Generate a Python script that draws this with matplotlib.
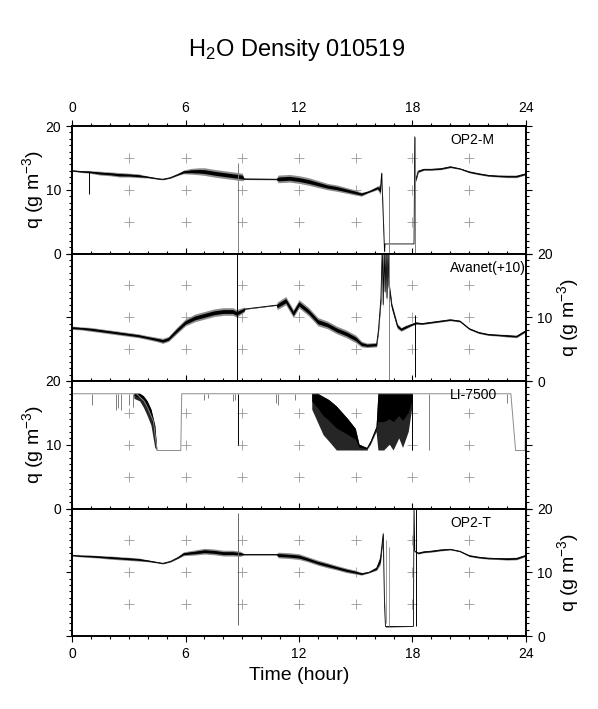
import matplotlib
matplotlib.use('Agg')
import matplotlib.pyplot as plt
import numpy as np
from matplotlib.ticker import MultipleLocator

plt.rcParams['font.family'] = ['Liberation Sans', 'DejaVu Sans']
plt.rcParams['mathtext.default'] = 'regular'

# ---- OP2-M : time (hour), water density (g m-3), noise half-width
t1 = [0, 0.5, 0.9, 1.5, 2, 2.5, 3, 3.5, 4, 4.5, 4.8, 5.2, 5.6, 5.9, 6.3, 6.7,
      7.0, 7.5, 8.0, 8.5, 9.0, 9.1, 10.8, 10.9, 11.5, 12.0, 12.5, 13.0, 13.5,
      14.0, 14.5, 15.0, 15.3, 15.7, 16.15, 16.3, 16.37, 16.45, 16.52, 16.55,
      18.08, 18.12, 18.17, 18.3, 18.6, 19.0, 19.5, 20.0, 20.5, 21.0, 21.5,
      22.0, 22.5, 23.0, 23.5, 24.0]
q1 = [13.0, 12.85, 12.8, 12.6, 12.5, 12.35, 12.3, 12.2, 12.0, 11.75, 11.65,
      11.9, 12.4, 12.8, 12.9, 12.9, 12.85, 12.6, 12.4, 12.2, 12.0, 11.7, 11.65,
      11.7, 11.8, 11.6, 11.3, 10.9, 10.5, 10.25, 9.9, 9.55, 9.3, 9.7, 10.3,
      10.0, 12.6, 6.0, 0.3, 1.5, 1.5, 18.3, 11.5, 12.9, 13.2, 13.2, 13.3, 13.6,
      13.3, 12.8, 12.5, 12.25, 12.15, 12.1, 12.1, 12.5]
w1 = [0.1, 0.15, 0.2, 0.3, 0.3, 0.35, 0.3, 0.3, 0.15, 0.1, 0.1, 0.1, 0.15,
      0.3, 0.45, 0.55, 0.6, 0.6, 0.6, 0.6, 0.6, 0.1, 0.1, 0.6, 0.6, 0.6, 0.6,
      0.55, 0.5, 0.5, 0.45, 0.4, 0.3, 0.15, 0.3, 0.8, 0.3, 0.5, 0.2, 0.0, 0.0,
      0.3, 0.3, 0.2, 0.15, 0.15, 0.15, 0.15, 0.1, 0.15, 0.15, 0.15, 0.15, 0.2,
      0.2, 0.15]
# spikes: time, low, high, colour
sp1 = [(0.9, 9.4, 12.8, 'k'), (8.75, 0.0, 14.2, '0.5'),
       (16.77, 0.0, 10.6, '0.5'), (18.12, 0.0, 18.3, '0.5')]

# ---- Avanet (+10)
t2 = [0, 0.5, 1, 1.5, 2, 2.5, 3, 3.5, 4, 4.5, 4.8, 5.1, 5.5, 6.0, 6.5, 7.0,
      7.5, 8.0, 8.5, 8.7, 9.1, 9.15, 10.8, 10.85, 11.3, 11.7, 12.0, 12.5,
      13.0, 13.5, 14.0, 14.5, 15.0, 15.3, 15.6, 16.1, 16.2, 16.33, 16.4,
      16.45, 16.5, 16.55, 16.6, 16.65, 16.7, 16.75, 16.85, 16.9, 17.2, 17.4,
      17.6, 18.0, 18.2, 18.5, 19.0, 19.5, 20.0, 20.5, 21.0, 21.5, 22.0, 22.5,
      23.0, 23.5, 24.0]
q2 = [8.35, 8.25, 8.1, 7.9, 7.7, 7.5, 7.3, 7.1, 6.8, 6.5, 6.3, 6.6, 7.8, 9.2,
      9.9, 10.3, 10.7, 10.9, 10.9, 10.6, 11.2, 11.3, 11.9, 11.8, 12.6, 10.6,
      12.1, 10.9, 9.3, 8.8, 8.0, 7.4, 6.6, 5.8, 5.6, 5.7, 8.0, 13.0, 21.0,
      12.0, 21.0, 14.0, 21.0, 13.0, 21.0, 15.0, 13.0, 11.8, 8.6, 8.1, 8.4, 8.9,
      9.1, 9.0, 9.2, 9.4, 9.6, 9.4, 8.2, 7.6, 7.3, 7.2, 7.1, 7.0, 7.9]
w2 = [0.25, 0.25, 0.3, 0.3, 0.3, 0.3, 0.3, 0.3, 0.3, 0.35, 0.4, 0.4, 0.5,
      0.55, 0.6, 0.6, 0.6, 0.6, 0.6, 0.6, 0.4, 0.05, 0.05, 0.6, 0.65, 0.65,
      0.65, 0.65, 0.65, 0.6, 0.6, 0.6, 0.6, 0.45, 0.35, 0.35, 0.5, 0.8, 0.8,
      0.8, 0.8, 0.8, 0.8, 0.8, 0.8, 0.8, 0.6, 0.5, 0.4, 0.3, 0.3, 0.2, 0.2,
      0.15, 0.15, 0.15, 0.15, 0.15, 0.15, 0.15, 0.15, 0.15, 0.2, 0.2, 0.2]
sp2 = [(8.7, 0.0, 20.0, 'k'), (16.77, 0.0, 20.0, '0.5'),
       (18.12, 0.6, 10.3, 'k')]

# ---- LI-7500 : saturating trace and noise envelope
t3 = [0, 3.4, 3.8, 4.0, 4.3, 4.5, 5.75, 5.8, 23.2, 23.45, 23.95, 24.0]
q3 = [18, 18, 16.9, 15.8, 13.7, 9.1, 9.1, 18, 18, 9.1, 9.1, 18]
tn3 = [3.3, 3.6, 3.8, 4.0, 4.2, 4.4, 4.5, 12.4, 12.7, 13.0, 13.3, 13.6, 14.0,
       14.3, 14.6, 15.0, 15.2, 15.6, 15.8, 16.1, 16.2, 16.5, 16.8, 17.0, 17.3,
       17.5, 17.8, 18.0, 18.05]
lo3 = [17.2, 16.8, 15.8, 14.5, 13.0, 9.5, 9.1, 18.0, 15.5, 13.5, 11.5, 10.5,
       9.1, 9.1, 9.1, 9.1, 9.1, 9.1, 10.0, 12.0, 9.1, 9.1, 10.0, 9.1, 11.0, 9.5,
       12.0, 16.0, 18.0]
hi3 = [18.0, 18.0, 17.6, 16.8, 15.5, 13.0, 9.5, 18.0, 18.0, 18.0, 17.5, 17.0,
       16.0, 15.0, 14.0, 12.5, 10.0, 9.5, 10.6, 12.8, 18.0, 18.0, 18.0, 18.0,
       18.0, 18.0, 18.0, 18.0, 18.0]
sp3 = [(1.05, 16.3, 18, '0.5'), (2.3, 15.5, 18, '0.5'), (2.45, 15.8, 18, '0.5'),
       (2.6, 15.5, 18, '0.5'), (3.0, 16.2, 18, '0.5'), (3.2, 16.0, 18, '0.5'),
       (7.0, 17.0, 18, '0.5'), (7.2, 17.3, 18, '0.5'), (8.5, 16.8, 18, '0.5'),
       (8.6, 17.0, 18, '0.5'), (8.78, 10.0, 18, 'k'), (10.8, 16.5, 18, '0.5'),
       (10.9, 16.2, 18, '0.5'), (11.8, 17.0, 18, '0.5'),
       (18.0, 9.1, 18, 'k'), (18.88, 9.1, 18, '0.5'), (23.0, 16.5, 18, '0.5')]

# ---- OP2-T
t4 = [0, 0.5, 1, 1.5, 2, 2.5, 3, 3.5, 4, 4.5, 4.8, 5.2, 5.6, 5.9, 6.5, 7.0,
      7.5, 8.0, 8.5, 8.9, 9.1, 10.8, 10.9, 11.5, 12.0, 12.5, 13.0, 13.5, 14.0,
      14.5, 15.0, 15.3, 15.7, 16.1, 16.3, 16.45, 16.52, 16.57, 18.05, 18.08,
      18.12, 18.3, 18.6, 19.0, 19.5, 20.0, 20.5, 21.0, 21.5, 22.0, 22.5, 23.0,
      23.5, 24.0]
q4 = [12.65, 12.55, 12.5, 12.4, 12.3, 12.2, 12.1, 12.0, 11.8, 11.55, 11.4,
      11.7, 12.3, 12.9, 13.1, 13.3, 13.2, 13.0, 13.0, 12.9, 12.8, 12.8, 12.7,
      12.6, 12.45, 12.0, 11.5, 11.1, 10.7, 10.3, 10.0, 9.75, 10.0, 10.6, 12.0,
      16.0, 5.0, 1.5, 1.5, 20.5, 13.3, 13.0, 13.2, 13.3, 13.5, 13.6, 13.3,
      12.6, 12.35, 12.2, 12.15, 12.1, 12.15, 12.65]
w4 = [0.1, 0.15, 0.2, 0.2, 0.25, 0.25, 0.25, 0.25, 0.15, 0.1, 0.1, 0.1, 0.15,
      0.3, 0.4, 0.45, 0.45, 0.45, 0.45, 0.4, 0.1, 0.1, 0.45, 0.45, 0.45, 0.4,
      0.4, 0.4, 0.35, 0.35, 0.3, 0.2, 0.1, 0.3, 0.8, 0.5, 0.5, 0.1, 0.0, 0.0,
      0.1, 0.15, 0.15, 0.15, 0.15, 0.1, 0.1, 0.15, 0.15, 0.15, 0.15, 0.2, 0.2,
      0.15]
sp4 = [(8.8, 1.7, 19.3, '0.4'), (16.6, 2.0, 15.0, '0.6'),
       (16.75, 1.5, 14.0, '0.6'), (18.2, 1.5, 20.0, 'k')]

names = ['OP2-M', 'Avanet(+10)', 'LI-7500', 'OP2-T']
xticks = [0, 6, 12, 18, 24]
yticks = [0, 10, 20]
grid_x = [3, 6, 9, 12, 15, 18, 21]
grid_y = [5, 10, 15]

W, H = 598, 709
fig = plt.figure(figsize=(W / 100, H / 100), dpi=100)

left_px, width_px = 72, 454
top_px, panel_px = 126, 127.5


def draw_trace(ax, t, q, w):
    t = np.asarray(t, float)
    q = np.asarray(q, float)
    w = np.asarray(w, float)
    ax.fill_between(t, q - w, q + w, color='0.55', lw=0)
    ax.fill_between(t, q - w * 0.5, q + w * 0.5, color='black', lw=0)
    ax.plot(t, q, color='black', lw=0.6)


axes = []
for i in range(4):
    bottom = 1 - (top_px + (i + 1) * panel_px) / H
    ax = fig.add_axes([left_px / W, bottom, width_px / W, panel_px / H])
    ax.set_xlim(0, 24)
    ax.set_ylim(0, 20)
    ax.set_xticks(xticks)
    ax.set_yticks(yticks)
    ax.xaxis.set_minor_locator(MultipleLocator(1))
    ax.yaxis.set_minor_locator(MultipleLocator(1))
    ax.tick_params(which='both', direction='out', top=True, right=True,
                   bottom=True, left=True, width=0.8, labelsize=10,
                   labelleft=False, labelright=False, labeltop=False,
                   labelbottom=False)
    ax.tick_params(which='major', length=4, pad=4)
    ax.tick_params(which='minor', length=2)
    for s in ax.spines.values():
        s.set_linewidth(1.4)
    gx, gy = np.meshgrid(grid_x, grid_y)
    ax.plot(gx.ravel(), gy.ravel(), '+', color='0.6', ms=7, mew=0.6,
            zorder=1)
    ax.text(0.833, 0.89, names[i], transform=ax.transAxes, fontsize=10,
            ha='left', va='center')
    axes.append(ax)

# traces
draw_trace(axes[0], t1, q1, w1)
draw_trace(axes[1], t2, q2, w2)
draw_trace(axes[3], t4, q4, w4)

lo3 = np.array(lo3)
hi3 = np.array(hi3)
axes[2].plot(t3, q3, color='0.55', lw=0.7)
axes[2].plot([15.2, 15.6], [9.1, 9.1], color='0.55', lw=0.7)
axes[2].fill_between(tn3, lo3, hi3, where=hi3 > lo3, color='0.15', lw=0)
axes[2].fill_between(tn3, (lo3 + hi3) / 2, hi3, where=hi3 > lo3,
                     color='black', lw=0)

for ax, sp in zip(axes, [sp1, sp2, sp3, sp4]):
    for ts, a, b, c in sp:
        ax.vlines(ts, a, b, color=c, lw=0.7)

axes[0].tick_params(labelleft=True, labeltop=True)
axes[1].tick_params(labelright=True)
axes[2].tick_params(labelleft=True)
axes[3].tick_params(labelright=True, labelbottom=True)

ylab = 'q (g m$^{-3}$)'
for i in range(4):
    yc = 1 - (top_px + (i + 0.5) * panel_px) / H
    xpos = 33 / W if i % 2 == 0 else 568 / W
    fig.text(xpos, yc, ylab, rotation=90, fontsize=14, ha='center',
             va='center')

fig.text(299 / W, 1 - 675 / H, 'Time (hour)', fontsize=14, ha='center',
         va='center')
fig.text(297 / W, 1 - 50 / H, 'H$_2$O Density 010519', fontsize=17,
         ha='center', va='center')

fig.savefig('out.png', dpi=100)
